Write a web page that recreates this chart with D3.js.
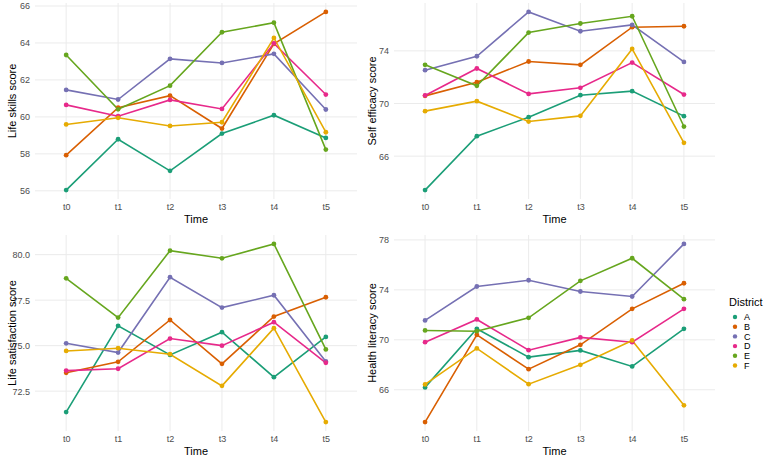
<!DOCTYPE html>
<html>
<head>
<meta charset="utf-8">
<script src="https://cdn.jsdelivr.net/npm/d3@7"></script>
<style>
  html, body { margin: 0; padding: 0; background: #fff; }
  svg { display: block; font-family: "Liberation Sans", Arial, sans-serif; }
</style>
</head>
<body>
<svg id="chart" width="767" height="458"></svg>
<script>
const times = ["t0", "t1", "t2", "t3", "t4", "t5"];
const districts = ["A", "B", "C", "D", "E", "F"];
const districtColors = ["#1B9E77", "#D95F02", "#7570B3", "#E7298A", "#66A61E", "#E6AB02"];

// rows ordered as districts A..F
const lifeSkills = [
  [56.04, 58.79, 57.08, 59.10, 60.09, 58.86],
  [57.93, 60.50, 61.15, 59.37, 63.95, 65.68],
  [61.46, 60.94, 63.14, 62.92, 63.41, 60.40],
  [60.65, 60.04, 60.92, 60.43, 63.98, 61.21],
  [63.35, 60.41, 61.69, 64.58, 65.10, 58.23],
  [59.59, 59.95, 59.51, 59.71, 64.27, 59.17]
];
const selfEfficacy = [
  [63.42, 67.52, 68.96, 70.63, 70.94, 69.04],
  [70.58, 71.62, 73.19, 72.94, 75.80, 75.87],
  [72.53, 73.59, 76.96, 75.49, 75.97, 73.16],
  [70.61, 72.66, 70.73, 71.19, 73.11, 70.68],
  [72.94, 71.34, 75.39, 76.08, 76.63, 68.25],
  [69.42, 70.18, 68.63, 69.06, 74.15, 67.01]
];
const lifeSatisfaction = [
  [71.35, 76.09, 74.49, 75.74, 73.27, 75.48],
  [73.51, 74.11, 76.41, 74.00, 76.60, 77.66],
  [75.13, 74.62, 78.76, 77.09, 77.77, 74.13],
  [73.63, 73.73, 75.39, 75.00, 76.29, 74.06],
  [78.70, 76.54, 80.22, 79.80, 80.59, 74.79],
  [74.71, 74.86, 74.53, 72.79, 75.96, 70.80]
];
const healthLiteracy = [
  [66.19, 70.88, 68.61, 69.15, 67.87, 70.88],
  [63.41, 70.40, 67.65, 69.60, 72.48, 74.53],
  [71.55, 74.27, 74.77, 73.87, 73.47, 77.68],
  [69.81, 71.63, 69.17, 70.19, 69.81, 72.48],
  [70.75, 70.69, 71.76, 74.72, 76.53, 73.25],
  [66.43, 69.31, 66.45, 68.00, 69.95, 64.75]
];

const lifeSkillsTicks = [56, 58, 60, 62, 64, 66];
const selfEfficacyTicks = [66, 70, 74];
const lifeSatisfactionTicks = [72.5, 75.0, 77.5, 80.0];
const healthLiteracyTicks = [66, 70, 74, 78];

const xTitle = "Time";
const legendTitle = "District";

const panels = [
  { data: lifeSkills, ticks: lifeSkillsTicks, fmt: d3.format("d"), title: "Life skills score", x0: 35, x1: 357, y0: 3, y1: 199, titleX: 12 },
  { data: selfEfficacy, ticks: selfEfficacyTicks, fmt: d3.format("d"), title: "Self efficacy score", x0: 394, x1: 715, y0: 3, y1: 199, titleX: 372 },
  { data: lifeSatisfaction, ticks: lifeSatisfactionTicks, fmt: d3.format(".1f"), title: "Life satisfaction score", x0: 35, x1: 357, y0: 235, y1: 431, titleX: 12 },
  { data: healthLiteracy, ticks: healthLiteracyTicks, fmt: d3.format("d"), title: "Health literacy score", x0: 394, x1: 715, y0: 235, y1: 431, titleX: 372 }
];

const svg = d3.select("#chart");

panels.forEach(p => {
  const all = p.data.flat();
  const mn = d3.min(all), mx = d3.max(all), r = mx - mn;
  const y = d3.scaleLinear().domain([mn - 0.05 * r, mx + 0.05 * r]).range([p.y1, p.y0]);
  const x = d3.scalePoint().domain(times).range([p.x0, p.x1]).padding(0.6);

  const g = svg.append("g");

  // grid
  g.append("g").selectAll("line.h").data(p.ticks).join("line")
    .attr("x1", p.x0).attr("x2", p.x1)
    .attr("y1", d => y(d)).attr("y2", d => y(d))
    .attr("stroke", "#ebebeb").attr("stroke-width", 1);
  g.append("g").selectAll("line.v").data(times).join("line")
    .attr("x1", d => x(d)).attr("x2", d => x(d))
    .attr("y1", p.y0).attr("y2", p.y1)
    .attr("stroke", "#ebebeb").attr("stroke-width", 1);

  // y axis
  const ya = g.append("g").attr("transform", `translate(${p.x0},0)`)
    .call(d3.axisLeft(y).tickValues(p.ticks).tickFormat(p.fmt).tickSize(0).tickPadding(5));
  ya.select(".domain").remove();
  ya.selectAll("text").attr("fill", "#4d4d4d").style("font-size", "9px").style("font-family", "Liberation Sans, Arial, sans-serif");

  // x axis
  const xa = g.append("g").attr("transform", `translate(0,${p.y1})`)
    .call(d3.axisBottom(x).tickSize(0).tickPadding(5));
  xa.select(".domain").remove();
  xa.selectAll("text").attr("fill", "#4d4d4d").style("font-size", "9px").style("font-family", "Liberation Sans, Arial, sans-serif");

  // titles
  g.append("text").attr("x", (p.x0 + p.x1) / 2).attr("y", p.y1 + 24)
    .attr("text-anchor", "middle").attr("fill", "#000").style("font-size", "11px").text(xTitle);
  g.append("text")
    .attr("transform", `translate(${p.titleX + 4},${(p.y0 + p.y1) / 2}) rotate(-90)`)
    .attr("text-anchor", "middle").attr("fill", "#000").style("font-size", "11px").text(p.title);

  const line = d3.line().x((d, i) => x(times[i])).y(d => y(d));
  g.append("g").selectAll("path").data(p.data).join("path")
    .attr("d", d => line(d))
    .attr("fill", "none")
    .attr("stroke", (d, i) => districtColors[i])
    .attr("stroke-width", 1.6);

  p.data.forEach((series, i) => {
    g.append("g").selectAll("circle").data(series).join("circle")
      .attr("cx", (d, j) => x(times[j])).attr("cy", d => y(d))
      .attr("r", 2.4).attr("fill", districtColors[i]);
  });
});

// legend
const lg = svg.append("g").attr("transform", "translate(729,0)");
lg.append("text").attr("x", 0).attr("y", 306).style("font-size", "11px").attr("fill", "#000").text(legendTitle);
const items = lg.selectAll("g.item").data(districts).join("g")
  .attr("transform", (d, i) => `translate(0,${317 + i * 9.7})`);
items.append("circle").attr("cx", 6).attr("cy", 0).attr("r", 2.2).attr("fill", (d, i) => districtColors[i]);
items.append("text").attr("x", 15).attr("y", 3.3).style("font-size", "9px").attr("fill", "#000").text(d => d);
</script>
</body>
</html>
